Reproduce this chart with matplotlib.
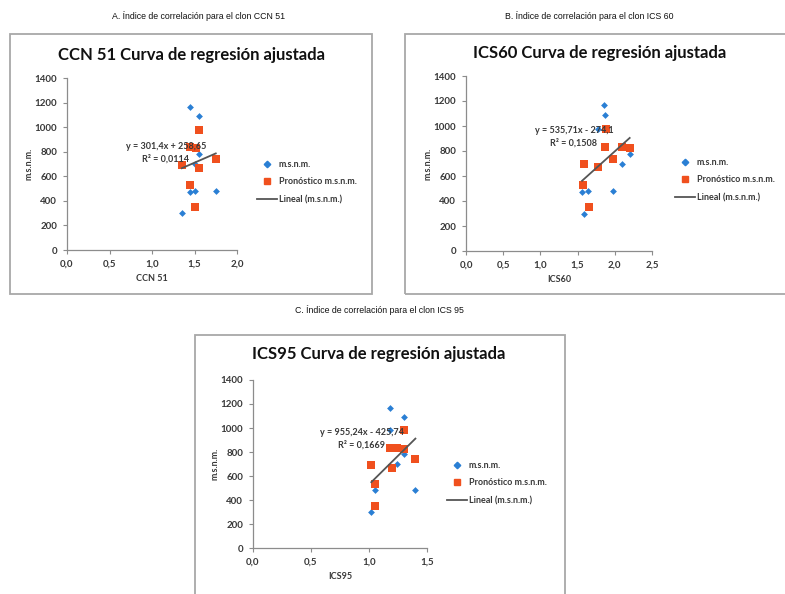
import numpy as np
import matplotlib
matplotlib.use("Agg")
import matplotlib.pyplot as plt
from matplotlib.patches import Rectangle
from matplotlib.lines import Line2D
from matplotlib.ticker import FuncFormatter

W, H = 785, 594

# --- data ---
# CCN 51
ccn_x_obs = [1.45, 1.55, 1.55, 1.50, 1.45, 1.50, 1.75, 1.35]
ccn_y_obs = [1165, 1090, 780, 700, 470, 480, 480, 300]
ccn_x_pred = [1.55, 1.45, 1.52, 1.35, 1.55, 1.75, 1.45, 1.50]
ccn_y_pred = [980, 835, 830, 695, 670, 740, 530, 350]
ccn_fit = (301.4, 258.65)

# ICS 60
ics60_x_obs = [1.86, 1.87, 1.78, 2.20, 2.10, 1.98, 1.64, 1.56, 1.58]
ics60_y_obs = [1165, 1090, 980, 780, 700, 480, 480, 470, 300]
ics60_x_pred = [1.88, 1.87, 2.10, 2.20, 1.98, 1.78, 1.59, 1.57, 1.65]
ics60_y_pred = [980, 835, 830, 825, 740, 670, 695, 530, 350]
ics60_fit = (535.71, -274.1)

# ICS 95
ics95_x_obs = [1.18, 1.30, 1.18, 1.30, 1.24, 1.05, 1.40, 1.02]
ics95_y_obs = [1165, 1090, 980, 780, 700, 480, 480, 300]
ics95_x_pred = [1.30, 1.18, 1.24, 1.30, 1.40, 1.20, 1.02, 1.05, 1.05]
ics95_y_pred = [980, 835, 835, 825, 740, 670, 695, 530, 350]
ics95_fit = (955.24, -425.74)

BLUE = "#2a7fd4"
ORANGE = "#f0501e"
LINE = "#555555"
TXT = "#383838"

plt.rcParams['font.family'] = ["Lato", 'DejaVu Sans']

fig = plt.figure(figsize=(W / 100, H / 100), dpi=100)
fig.patch.set_facecolor("white")


def fx(px):
    return px / W


def fy(py):
    return 1 - py / H


def box(x0, y0, x1, y1):
    fig.patches.append(Rectangle((fx(x0), fy(y1)), fx(x1) - fx(x0), fy(y0) - fy(y1),
                                 transform=fig.transFigure, fill=False,
                                 edgecolor="#a8a8a8", linewidth=1.3))


comma = FuncFormatter(lambda v, p: ("%.1f" % v).replace(".", ","))


def panel(rect, xo, yo, xp, yp, fit, xmax, xlabel, title, title_xy,
          eq, eq_xy, leg_xy):
    l, r, t, b = rect
    ax = fig.add_axes([fx(l), fy(b), fx(r) - fx(l), fy(t) - fy(b)])
    ax.scatter(xo, yo, marker="D", s=12, color=BLUE, zorder=3, linewidths=0)
    ax.scatter(xp, yp, marker="s", s=26, color=ORANGE, zorder=4, linewidths=0)
    xs = np.array([min(xo), max(xo)])
    ax.plot(xs, fit[0] * xs + fit[1], color=LINE, lw=1.3, zorder=5)
    ax.set_xlim(0, xmax)
    ax.set_ylim(0, 1400)
    ax.set_xticks(np.arange(0, xmax + 0.01, 0.5))
    ax.set_yticks(range(0, 1401, 200))
    ax.xaxis.set_major_formatter(comma)
    for s in ("top", "right"):
        ax.spines[s].set_visible(False)
    for s in ("left", "bottom"):
        ax.spines[s].set_color("#8c8c8c")
        ax.spines[s].set_linewidth(0.9)
    ax.tick_params(axis="both", length=3, width=0.8, color="#8c8c8c",
                   labelsize=7, labelcolor=TXT, direction="out", pad=4)
    for lab in ax.get_xticklabels() + ax.get_yticklabels():
        lab.set_fontweight("bold")
    ax.set_xlabel(xlabel, fontsize=6.5, fontweight="bold", color=TXT, labelpad=4)
    ax.set_ylabel("m.s.n.m.", fontsize=6.5, fontweight="bold", color=TXT, labelpad=1)
    ax.patch.set_alpha(0)
    fig.text(fx(title_xy[0]), fy(title_xy[1]), title, ha="center", va="center",
             fontsize=12, fontweight="bold", color="#111111")
    fig.text(fx(eq_xy[0]), fy(eq_xy[1]), eq, ha="center", va="center",
             fontsize=6.5, fontweight="bold", color=TXT, linespacing=1.5, zorder=10)
    handles = [Line2D([], [], marker="D", ms=3.3, color=BLUE, ls="none"),
               Line2D([], [], marker="s", ms=5, color=ORANGE, ls="none"),
               Line2D([], [], color=LINE, lw=1.3)]
    leg = fig.legend(handles, ["m.s.n.m.", "Pronóstico m.s.n.m.", "Lineal (m.s.n.m.)"],
                     loc="center left", bbox_to_anchor=(fx(leg_xy[0]), fy(leg_xy[1])),
                     frameon=False, fontsize=6.5, labelcolor=TXT, handlelength=2.2,
                     handletextpad=0.2, labelspacing=0.95, borderaxespad=0, borderpad=0)
    for t_ in leg.get_texts():
        t_.set_fontweight("bold")


# boxes and captions
box(10, 34, 372, 294)
box(405, 34, 790, 294)
box(195, 335, 565, 600)
cap = dict(ha="center", va="center", fontsize=6.3, color="#111111",
           family=["Liberation Sans", "DejaVu Sans"])
fig.text(fx(199), fy(16), "A. Índice de correlación para el clon CCN 51", **cap)
fig.text(fx(589), fy(16), "B. Índice de correlación para el clon ICS 60", **cap)
fig.text(fx(379), fy(310), "C. Índice de correlación para el clon ICS 95", **cap)

panel((67, 237, 78, 250), ccn_x_obs, ccn_y_obs, ccn_x_pred, ccn_y_pred, ccn_fit,
      2.0, "CCN 51", "CCN 51 Curva de regresión ajustada", (192, 55),
      "y = 301,4x + 258,65\nR² = 0,0114", (166, 153), (257, 182))
panel((466, 652, 76, 251), ics60_x_obs, ics60_y_obs, ics60_x_pred, ics60_y_pred, ics60_fit,
      2.5, "ICS60", "ICS60 Curva de regresión ajustada", (600, 53),
      "y = 535,71x - 274,1\nR² = 0,1508", (574, 137), (675, 180))
panel((253, 427, 380, 548), ics95_x_obs, ics95_y_obs, ics95_x_pred, ics95_y_pred, ics95_fit,
      1.5, "ICS95", "ICS95 Curva de regresión ajustada", (379, 354),
      "y = 955,24x - 425,74\nR² = 0,1669", (362, 439), (447, 483))

fig.savefig("out.png", dpi=100, facecolor="white")
